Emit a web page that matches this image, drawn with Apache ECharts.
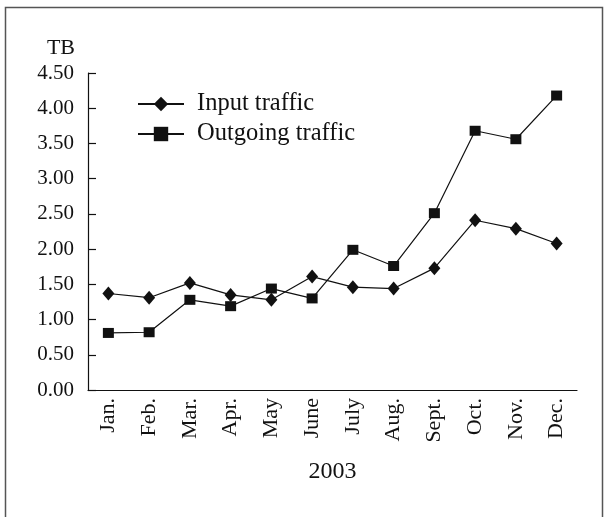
<!DOCTYPE html>
<html>
<head>
<meta charset="utf-8">
<script src="https://cdn.jsdelivr.net/npm/echarts@6/dist/echarts.min.js"></script>
<style>
  html, body { margin: 0; padding: 0; background: #fff; }
  #chart { width: 604px; height: 517px; }
</style>
</head>
<body>
<div id="chart"></div>
<script>
const months = ['Jan.', 'Feb.', 'Mar.', 'Apr.', 'May', 'June', 'July', 'Aug.', 'Sept.', 'Oct.', 'Nov.', 'Dec.']
const inputTraffic = [1.37, 1.31, 1.52, 1.35, 1.28, 1.61, 1.46, 1.44, 1.73, 2.41, 2.29, 2.08]
const outgoingTraffic = [0.81, 0.82, 1.28, 1.19, 1.44, 1.30, 1.99, 1.76, 2.51, 3.68, 3.56, 4.18]

const font = 'Liberation Serif'
const ink = '#111'

const chart = echarts.init(document.getElementById('chart'))
chart.setOption({
  animation: false,
  textStyle: { fontFamily: font, color: ink },
  graphic: [
    {
      type: 'rect',
      shape: { x: 5.5, y: 7.5, width: 597, height: 530 },
      style: { fill: 'none', stroke: '#555', lineWidth: 1.5 }
    }
  ],
  legend: {
    orient: 'vertical',
    left: 132,
    top: 86,
    itemWidth: 46,
    itemHeight: 18,
    itemGap: 4,
    textStyle: { fontFamily: font, fontSize: 24.5, lineHeight: 26, color: ink, padding: [0, 0, 0, 8] },
    data: ['Input traffic', 'Outgoing traffic']
  },
  grid: {
    left: 88,
    right: 27,
    top: 73,
    bottom: 127
  },
  xAxis: {
    type: 'category',
    data: months,
    boundaryGap: true,
    name: '2003',
    nameLocation: 'middle',
    nameGap: 70,
    nameTextStyle: { fontFamily: font, fontSize: 24, color: ink },
    axisLine: { lineStyle: { color: ink, width: 1.2 } },
    axisTick: { inside: true, length: 14, lineStyle: { color: ink, width: 1.2 } },
    axisLabel: { rotate: 90, margin: 8, fontFamily: font, fontSize: 22, color: ink },
    splitLine: { show: false }
  },
  yAxis: {
    type: 'value',
    min: 0,
    max: 4.5,
    interval: 0.5,
    name: 'TB',
    nameLocation: 'end',
    nameGap: 14,
    nameTextStyle: { fontFamily: font, fontSize: 22, color: ink, align: 'right', padding: [0, 13, 0, 0] },
    axisLine: { show: true, lineStyle: { color: ink, width: 1.2 } },
    axisTick: { show: true, inside: true, length: 8, lineStyle: { color: ink, width: 1.2 } },
    axisLabel: {
      margin: 14,
      fontFamily: font,
      fontSize: 21,
      color: ink,
      formatter: v => v.toFixed(2)
    },
    splitLine: { show: false }
  },
  series: [
    {
      name: 'Input traffic',
      type: 'line',
      data: inputTraffic,
      symbol: 'diamond',
      symbolSize: [12, 14],
      itemStyle: { color: ink },
      lineStyle: { color: ink, width: 1.2 }
    },
    {
      name: 'Outgoing traffic',
      type: 'line',
      data: outgoingTraffic,
      symbol: 'rect',
      symbolSize: [11, 10],
      itemStyle: { color: ink },
      lineStyle: { color: ink, width: 1.2 }
    }
  ]
})
</script>
</body>
</html>
